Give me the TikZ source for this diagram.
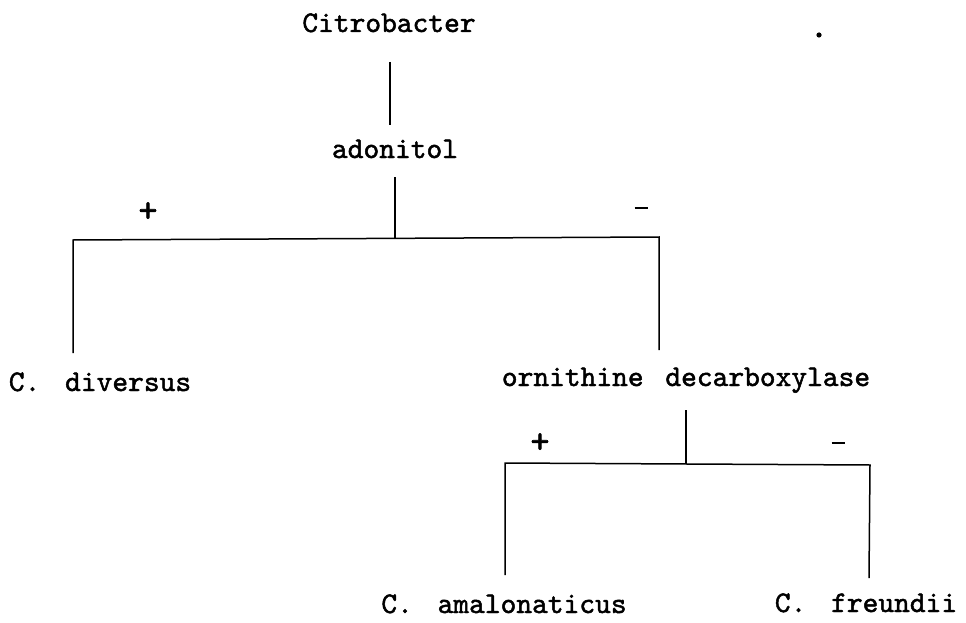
\documentclass[tikz,border=0pt]{standalone}
\usepackage{fontspec}
% typewriter face, slightly emboldened
\newfontfamily\typer{lmmono10-regular.otf}[FakeBold=1.6]
\newfontfamily\typersign{lmmono10-regular.otf}[FakeBold=2]
\begin{document}
\begin{tikzpicture}[x=1pt,y=-1pt,
  label/.style={font=\typer\fontsize{30}{30}\selectfont, inner sep=0pt, anchor=base},
  sign/.style={font=\typersign\fontsize{36}{36}\selectfont, inner sep=0pt},
  branch/.style={line width=1.5pt, line join=miter}]
\useasboundingbox (0,0) rectangle (966,623);

% taxa and tests
\node[label] (root) at (389,32) {Citrobacter};
\node[label] (adon) at (395,158) {adonitol};
\node[label] (div)  at (100,391) {C.\hspace{9pt} diversus};
\node[label] (orn)  at (686,386) {ornithine\hspace{6pt} decarboxylase};
\node[label] (amal) at (504,613) {C.\hspace{9pt} amalonaticus};
\node[label] (freu) at (866,612) {C.\hspace{9pt} freundii};

% end points of the connectors
\coordinate (rootEnd) at (390,62);
\coordinate (adonTop) at (390,125);
\coordinate (adonEnd) at (395,177);
\coordinate (adonJ)   at (395,239);
\coordinate (adonL)   at (73,240);
\coordinate (adonR)   at (659,237);
\coordinate (divTop)  at (73,353);
\coordinate (ornTop)  at (659,350);
\coordinate (ornEnd)  at (686,410);
\coordinate (ornJ)    at (686,464);
\coordinate (ornL)    at (505,463);
\coordinate (ornR)    at (870,465);
\coordinate (amalTop) at (505,575);
\coordinate (freuTop) at (869,578);

% connectors
\draw[branch] (rootEnd) -- (adonTop);
\draw[branch] (adonEnd) -- (adonJ);
\draw[branch] (divTop) -- (adonL) -- (adonR) -- (ornTop);
\draw[branch] (ornEnd) -- (ornJ);
\draw[branch] (amalTop) -- (ornL) -- (ornR) -- (freuTop);

% test outcomes
\node[sign] (p1) at (148,212) {+};
\node[sign] (m1) at (641,208) {\rule{13pt}{2.4pt}};
\node[sign] (p2) at (540,443) {+};
\node[sign] (m2) at (838,443) {\rule{13pt}{2.4pt}};

% small dot near the top right
\fill (819,35) circle (2.6pt);
\end{tikzpicture}
\end{document}
